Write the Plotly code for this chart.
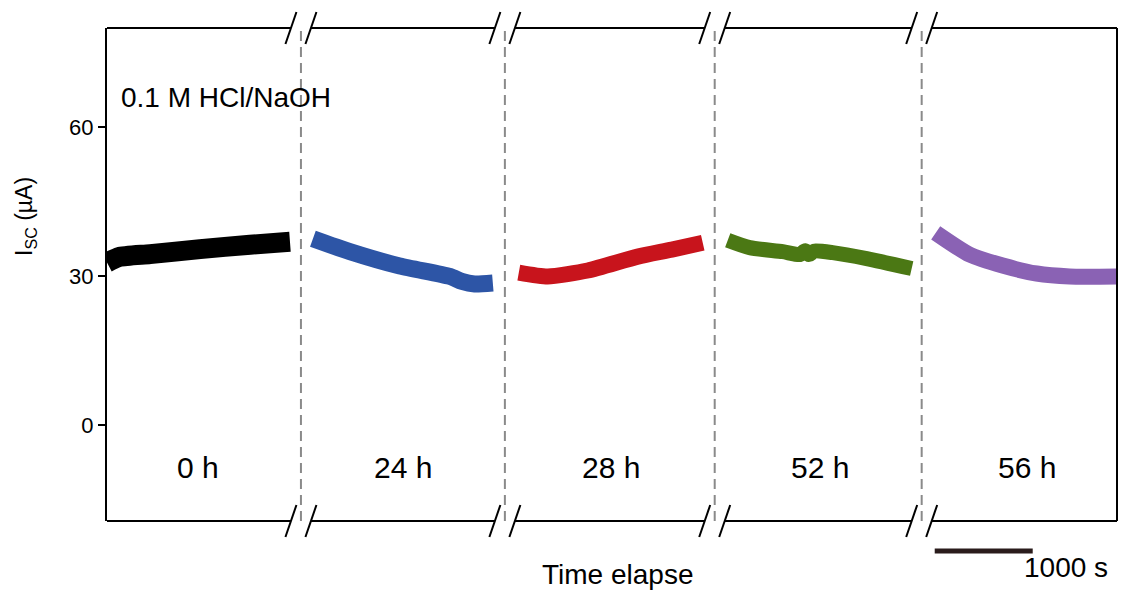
import plotly.graph_objects as go

# ---------------- data ----------------
labels = ["0 h", "24 h", "28 h", "52 h", "56 h"]
colors = ["#000000", "#2d55a6", "#c8141c", "#4b7814", "#8a62b4"]
widths = [20, 17, 16, 15, 16]

# start time of every segment on the (broken) time axis, s
segment_start_s = [0, 2101, 4202, 6334, 8456]
# positions of the axis breaks, s
break_s = [1979, 4060, 6201, 8313]

# time inside each segment (s) and short-circuit current (µA)
t_0h = [0, 120, 440, 950, 1460, 1867]
i_0h = [32.7, 33.8, 34.4, 35.4, 36.3, 36.9]

t_24h = [0, 377, 887, 1397, 1520, 1650, 1836]
i_24h = [37.5, 34.9, 32.0, 29.9, 28.9, 28.4, 28.6]

t_28h = [0, 296, 704, 1214, 1561, 1877]
i_28h = [30.7, 29.9, 31.1, 33.9, 35.3, 36.7]

t_52h = [0, 224, 561, 734, 790, 830, 880, 1071, 1418, 1877]
i_52h = [37.2, 35.7, 34.9, 34.3, 35.1, 34.3, 35.0, 34.7, 33.5, 31.5]

t_56h = [0, 347, 683, 1030, 1367, 1857]
i_56h = [38.7, 34.3, 32.1, 30.5, 29.9, 29.9]

times = [t_0h, t_24h, t_28h, t_52h, t_56h]
currents = [i_0h, i_24h, i_28h, i_52h, i_56h]

x_range = [0, 10306]
y_range = [-19.33, 79.93]
y_ticks = [0, 30, 60]
scale_bar_s = 1000
scale_bar_start_s = 8446

# ---------------- figure ----------------
W, H = 1122, 594
ML, MR, MT, MB = 107, 5, 28, 73
plot_w = W - ML - MR
plot_h = H - MT - MB
s_per_px = (x_range[1] - x_range[0]) / plot_w


def py(px):
    """pixel row -> paper y"""
    return (H - MB - px) / plot_h


def pxx(px):
    """pixel column -> paper x"""
    return (px - ML) / plot_w


FONT = "Liberation Sans, Arial, sans-serif"

fig = go.Figure()
for k, (t, cur, col, w) in enumerate(zip(times, currents, colors, widths)):
    fig.add_trace(go.Scatter(
        x=[segment_start_s[k] + v for v in t], y=cur, mode="lines",
        line=dict(color=col, width=w, shape="spline", smoothing=0.6),
        hoverinfo="skip", showlegend=False))

shapes = []
# dashed break lines
for b in break_s:
    shapes.append(dict(type="line", xref="x", yref="paper", x0=b, x1=b, y0=0, y1=1,
                       line=dict(color="#8a8a8a", width=2, dash="10px,6px"), layer="below"))
# right frame line
shapes.append(dict(type="line", xref="paper", yref="paper", x0=1, x1=1, y0=0, y1=1,
                   line=dict(color="black", width=2)))
# top & bottom frame lines with gaps at breaks
gap = 10 * s_per_px
edges = [x_range[0]] + [v for b in break_s for v in (b - gap, b + gap)] + [x_range[1]]
for a, bb in zip(edges[0::2], edges[1::2]):
    for yy in (0, 1):
        shapes.append(dict(type="line", xref="x", yref="paper", x0=a, x1=bb, y0=yy, y1=yy,
                           line=dict(color="black", width=2)))
# slash marks "//"
for b in break_s:
    for yy in (0, 1):
        for off in (-10, 10):
            shapes.append(dict(type="line", xref="x", yref="paper",
                               xsizemode="pixel", ysizemode="pixel",
                               xanchor=b, yanchor=yy,
                               x0=off - 5.5, x1=off + 5.5, y0=-16, y1=16,
                               line=dict(color="black", width=2)))
# scale bar
shapes.append(dict(type="line", xref="x", yref="paper",
                   x0=scale_bar_start_s, x1=scale_bar_start_s + scale_bar_s,
                   y0=py(551), y1=py(551), line=dict(color="#2a1c1c", width=5)))

annotations = []
for k, lab in enumerate(labels):
    mid = segment_start_s[k] + (times[k][-1]) / 2
    annotations.append(dict(x=mid, y=py(467), xref="x", yref="paper", yanchor="middle",
                            text=lab, showarrow=False,
                            font=dict(family=FONT, size=30, color="black")))
annotations.append(dict(x=pxx(119), y=py(98), xref="paper", yref="paper",
                        xanchor="left", yanchor="middle",
                        text="0.1 M HCl/NaOH", showarrow=False,
                        font=dict(family=FONT, size=28, color="black")))
annotations.append(dict(x=pxx(617), y=py(574), xref="paper", yref="paper",
                        xanchor="center", yanchor="middle",
                        text="Time elapse", showarrow=False,
                        font=dict(family=FONT, size=28, color="black")))
annotations.append(dict(x=pxx(1022), y=py(567), xref="paper", yref="paper",
                        xanchor="left", yanchor="middle",
                        text="1000 s", showarrow=False,
                        font=dict(family=FONT, size=28, color="black")))
annotations.append(dict(x=pxx(25), y=py(217), xref="paper", yref="paper",
                        xanchor="center", yanchor="middle", textangle=-90,
                        text="I<sub>SC</sub> (µA)", showarrow=False,
                        font=dict(family=FONT, size=23, color="black")))

fig.update_layout(
    width=W, height=H,
    margin=dict(l=ML, r=MR, t=MT, b=MB),
    paper_bgcolor="white", plot_bgcolor="white",
    shapes=shapes, annotations=annotations,
    xaxis=dict(range=x_range, showgrid=False, zeroline=False, showticklabels=False,
               ticks="", showline=False),
    yaxis=dict(range=y_range, tickvals=y_ticks, ticks="outside", ticklen=7, tickwidth=2,
               tickcolor="black", showline=True, linecolor="black", linewidth=2,
               showgrid=False, zeroline=False,
               tickfont=dict(family=FONT, size=22, color="black")),
)

fig.write_html("out.html")
